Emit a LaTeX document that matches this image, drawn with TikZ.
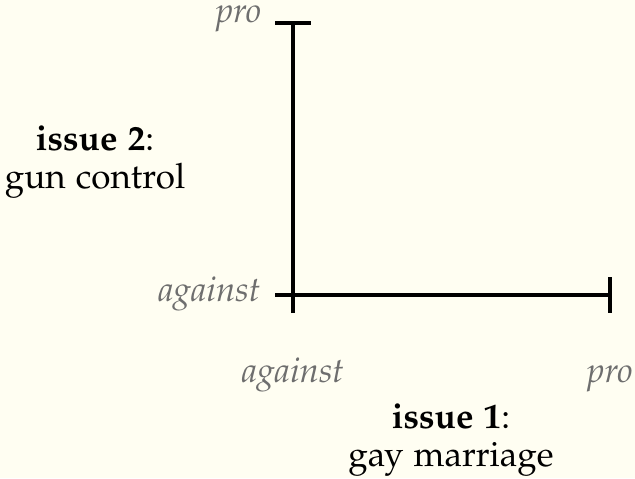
\documentclass[tikz,border=0pt]{standalone}
\usepackage[T1]{fontenc}
\usepackage[sc]{mathpazo}
\usepackage{tikz}
\usetikzlibrary{arrows.meta,positioning}
\definecolor{ipcream}{HTML}{FFFEF2}
\definecolor{ipgray}{HTML}{6E6E6E}
\tikzset{
  ip/axis/.style={
    draw=black, line width=1.4pt,
    {Bar[width=10.8pt]}-{Bar[width=10.8pt]},
    shorten <=-0.7pt, shorten >=-0.7pt
  },
  ip/pole/.style={
    text=ipgray, inner sep=0pt, font=\fontsize{10.4}{11.4}\selectfont\itshape
  },
  ip/issue/.style={
    text=black, inner sep=0pt, align=center, font=\fontsize{10.5}{11.4}\selectfont
  }
}
\begin{document}
\begin{tikzpicture}[x=0.3pt, y=-0.3pt]
  \fill[ipcream] (0,0) rectangle (635,478);
  \useasboundingbox (0,0) rectangle (635,478);
  % axis ends
  \coordinate (origin) at (293,295);
  \coordinate (proone) at (610,295);
  \coordinate (protwo) at (293,23);
  \draw[ip/axis] (origin) -- (proone);
  \draw[ip/axis] (origin) -- (protwo);
  % pole labels
  \node[ip/pole, anchor=base east] (protwolbl) at (262,22) {pro};
  \node[ip/pole, anchor=base east] (againsttwolbl) at (261,301) {against};
  \node[ip/pole, anchor=base] (againstonelbl) at (293,382) {against};
  \node[ip/pole, anchor=base] (proonelbl) at (610,382) {pro};
  % issues
  \node[ip/issue] (issuetwo) at (95,162) {\textbf{issue 2}:\\gun control};
  \node[ip/issue] (issueone) at (451,440) {\textbf{issue 1}:\\gay marriage};
\end{tikzpicture}
\end{document}
